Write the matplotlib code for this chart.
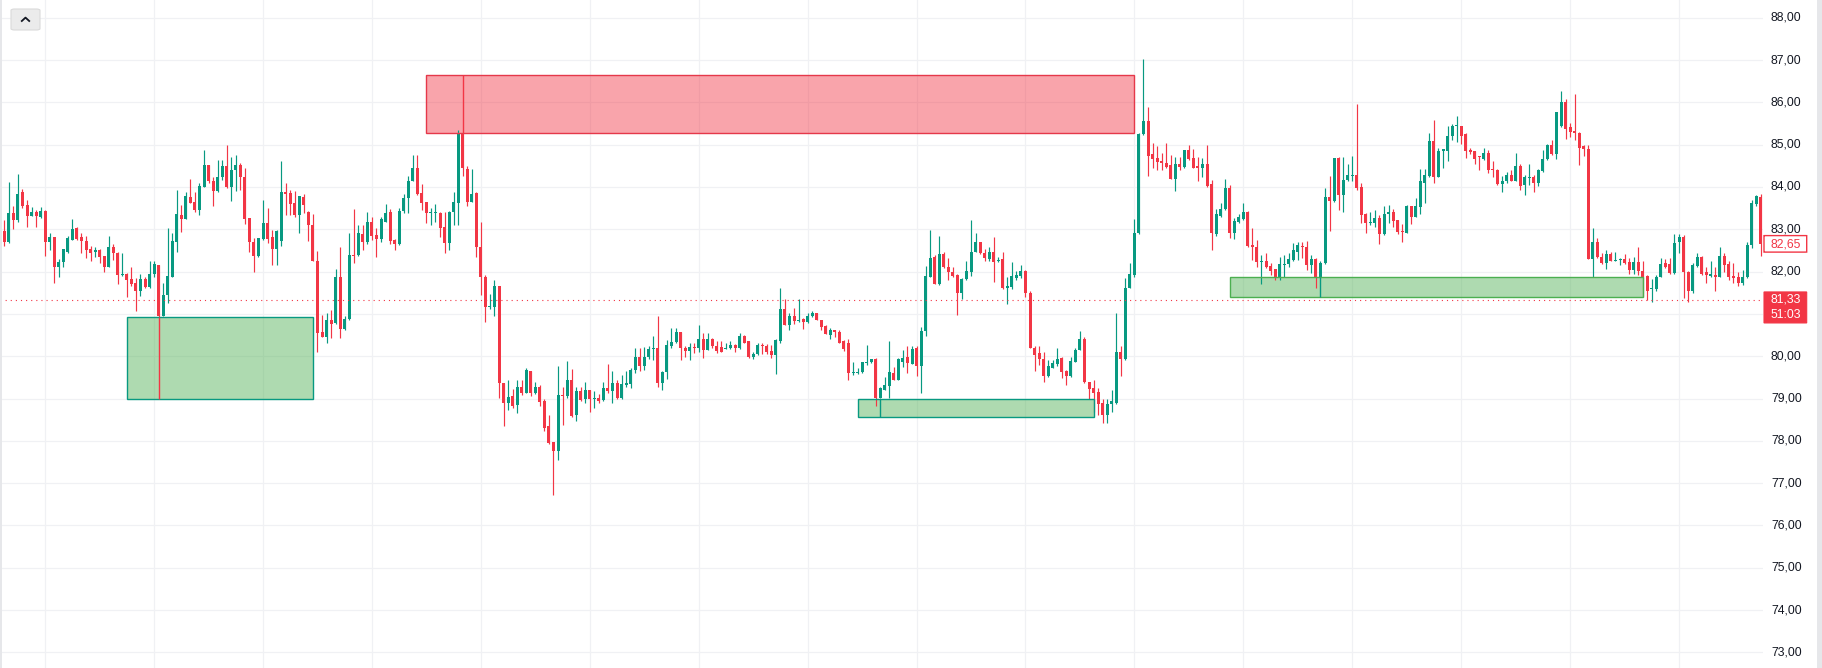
import matplotlib as mpl
mpl.use("Agg")
import matplotlib.pyplot as plt
from matplotlib.patches import Rectangle, FancyBboxPatch
from matplotlib.lines import Line2D
import numpy as np

# hourly candles
opens = [
    82.96, 82.69, 83.39, 83.22, 83.87, 83.57, 83.32, 83.41, 83.28, 83.43,
    82.71, 82.81, 82.10, 82.22, 82.47, 82.75, 83.04, 82.81, 82.73, 82.53,
    82.47, 82.50, 82.37, 82.12, 82.59, 82.45, 81.93, 81.94, 81.83, 81.74,
    81.55, 81.83, 81.63, 81.94, 82.15, 80.94, 81.45, 81.88, 82.71, 83.34,
    83.24, 83.76, 83.64, 83.46, 84.01, 84.52, 84.14, 83.91, 84.24, 84.50,
    84.01, 84.39, 84.52, 84.24, 83.26, 82.69, 82.37, 82.76, 83.16, 82.81,
    82.54, 82.73, 83.87, 83.85, 83.61, 83.34, 83.77, 83.42, 83.10, 82.25,
    80.58, 80.46, 80.86, 80.78, 81.87, 80.64, 80.87, 82.39, 82.39, 82.89,
    82.69, 83.17, 82.87, 82.76, 83.18, 83.40, 82.75, 82.65, 83.44, 83.73,
    84.14, 84.46, 83.85, 83.64, 83.38, 83.38, 83.39, 83.05, 82.67, 83.40,
    83.61, 85.25, 84.42, 83.65, 83.85, 82.59, 81.88, 81.17, 81.17, 81.65,
    79.36, 78.89, 79.05, 78.85, 79.28, 79.14, 79.66, 79.13, 79.28, 78.93,
    78.34, 77.98, 77.75, 79.09, 79.06, 79.44, 78.61, 79.17, 78.99, 79.19,
    78.99, 79.02, 78.97, 79.24, 79.17, 79.36, 79.01, 79.33, 79.35, 79.68,
    79.98, 79.77, 79.98, 80.17, 80.19, 79.36, 79.62, 80.25, 80.33, 80.58,
    80.20, 80.13, 80.21, 80.19, 80.41, 80.15, 80.41, 80.24, 80.21, 80.18,
    80.19, 80.27, 80.19, 80.48, 80.35, 79.98, 80.05, 80.24, 80.23, 80.13,
    80.03, 80.35, 81.11, 80.74, 80.95, 80.83, 80.87, 80.80, 80.94, 81.02,
    80.86, 80.72, 80.50, 80.61, 80.58, 80.35, 80.32, 79.60, 79.60, 79.62,
    79.83, 79.86, 79.94, 79.01, 79.20, 79.30, 79.60, 79.44, 79.87, 79.99,
    79.82, 80.19, 79.76, 80.59, 81.88, 82.34, 81.70, 82.42, 82.12, 82.00,
    81.92, 81.50, 81.82, 81.98, 82.47, 82.69, 82.45, 82.30, 82.46, 82.24,
    82.29, 81.61, 81.63, 81.86, 81.90, 82.02, 81.49, 80.19, 80.07, 79.94,
    79.54, 79.73, 79.81, 79.95, 79.65, 79.54, 79.87, 80.15, 80.40, 79.38,
    79.24, 79.16, 78.89, 78.60, 78.87, 78.89, 80.09, 79.93, 81.62, 81.92,
    82.92, 85.25, 85.57, 84.78, 84.69, 84.62, 84.57, 84.52, 84.20, 84.54,
    84.48, 84.87, 84.68, 84.50, 84.46, 84.54, 84.06, 82.89, 83.31, 83.47,
    83.98, 82.92, 83.18, 83.24, 83.42, 82.63, 82.57, 82.22, 82.25, 82.14,
    82.06, 81.84, 82.16, 82.18, 82.28, 82.47, 82.61, 82.59, 82.16, 82.30,
    81.88, 82.20, 83.77, 83.67, 84.68, 83.81, 84.17, 84.26, 84.28, 84.01,
    83.36, 83.14, 83.14, 83.26, 82.89, 83.36, 83.42, 83.22, 82.96, 82.92,
    83.54, 83.30, 83.52, 84.10, 84.26, 85.09, 84.24, 84.85, 84.86, 85.21,
    85.43, 85.44, 85.25, 84.87, 84.85, 84.72, 84.65, 84.80, 84.40, 84.40,
    84.07, 84.14, 84.28, 84.15, 84.50, 84.05, 84.22, 84.24, 84.10, 84.38,
    84.65, 84.99, 84.78, 85.45, 86.02, 85.41, 85.32, 85.27, 84.97, 84.90,
    82.29, 82.69, 82.34, 82.20, 82.42, 82.26, 82.28, 82.30, 82.22, 82.04,
    82.22, 82.02, 81.90, 81.59, 81.59, 81.88, 82.20, 82.18, 81.96, 82.69,
    82.81, 82.00, 81.53, 82.13, 82.35, 81.98, 81.90, 81.92, 81.88, 82.38,
    82.18, 81.90, 81.88, 81.72, 81.87, 82.62, 83.60, 83.76,
]
highs = [
    83.22, 84.12, 83.55, 84.31, 83.95, 83.69, 83.52, 83.46, 83.52, 83.46,
    82.91, 82.81, 82.30, 82.54, 82.83, 83.24, 83.06, 82.91, 82.84, 82.61,
    82.59, 82.54, 82.37, 82.84, 82.65, 82.47, 82.43, 81.96, 82.12, 81.86,
    81.94, 81.88, 82.24, 82.24, 82.16, 81.72, 83.04, 82.91, 83.94, 83.57,
    83.87, 84.19, 83.87, 84.09, 84.87, 84.52, 84.23, 84.64, 84.64, 84.99,
    84.72, 84.76, 84.56, 84.44, 83.27, 82.80, 82.80, 83.69, 83.50, 82.98,
    82.98, 84.61, 84.09, 83.93, 83.91, 83.79, 83.83, 83.43, 83.36, 82.49,
    80.98, 81.02, 81.09, 82.06, 82.59, 80.94, 82.92, 83.47, 83.10, 83.10,
    83.40, 83.30, 83.02, 83.28, 83.60, 83.47, 82.76, 83.50, 83.83, 84.26,
    84.76, 84.76, 84.07, 83.65, 83.50, 83.60, 83.42, 83.42, 83.44, 83.89,
    85.35, 85.27, 84.50, 84.43, 83.89, 83.18, 81.92, 81.47, 81.79, 81.65,
    79.36, 79.44, 79.22, 79.44, 79.44, 79.72, 79.66, 79.40, 79.32, 78.98,
    78.61, 77.98, 79.76, 79.28, 79.89, 79.69, 79.28, 79.28, 79.40, 79.19,
    79.17, 79.10, 79.40, 79.82, 79.64, 79.44, 79.56, 79.66, 79.72, 80.19,
    80.19, 80.21, 80.23, 80.48, 80.94, 79.64, 80.39, 80.66, 80.66, 80.58,
    80.23, 80.31, 80.32, 80.74, 80.56, 80.54, 80.44, 80.35, 80.35, 80.31,
    80.35, 80.29, 80.56, 80.50, 80.35, 80.09, 80.31, 80.31, 80.29, 80.27,
    80.41, 81.61, 81.35, 81.02, 81.13, 81.35, 80.90, 81.02, 81.08, 81.03,
    80.86, 80.74, 80.66, 80.62, 80.61, 80.39, 80.40, 79.87, 79.72, 79.87,
    80.27, 79.94, 79.95, 79.28, 79.52, 80.35, 79.74, 79.95, 80.15, 80.24,
    80.23, 80.24, 80.70, 82.13, 82.98, 82.39, 82.83, 82.47, 82.31, 82.12,
    81.94, 81.84, 82.25, 83.22, 82.91, 82.71, 82.53, 82.59, 82.81, 82.34,
    82.47, 81.88, 82.22, 82.02, 82.16, 82.04, 81.53, 80.23, 80.23, 80.11,
    79.91, 79.90, 80.19, 79.99, 79.68, 79.99, 80.19, 80.60, 80.46, 79.40,
    79.43, 79.24, 79.00, 78.98, 79.19, 81.02, 80.24, 81.84, 82.21, 83.24,
    85.28, 87.02, 85.90, 85.03, 84.97, 84.80, 85.05, 84.76, 84.72, 84.72,
    84.87, 84.99, 84.89, 84.70, 84.68, 84.99, 84.17, 83.47, 83.61, 84.20,
    84.05, 83.26, 83.36, 83.61, 83.43, 83.02, 82.75, 82.39, 82.43, 82.20,
    82.06, 82.35, 82.39, 82.43, 82.67, 82.71, 82.71, 82.72, 82.39, 82.31,
    82.24, 83.97, 84.26, 84.68, 84.70, 84.72, 84.54, 84.73, 85.96, 84.09,
    83.39, 83.42, 83.46, 83.34, 83.54, 83.57, 83.47, 83.22, 83.13, 83.57,
    83.55, 83.73, 84.42, 84.42, 85.27, 85.58, 84.91, 84.90, 85.44, 85.48,
    85.68, 85.44, 85.27, 84.91, 84.85, 84.73, 84.93, 84.87, 84.62, 84.42,
    84.26, 84.36, 84.40, 84.81, 84.54, 84.28, 84.54, 84.28, 84.42, 84.87,
    85.02, 85.11, 85.78, 86.27, 86.08, 85.52, 86.20, 85.31, 84.99, 84.99,
    83.02, 82.79, 82.43, 82.51, 82.47, 82.47, 82.31, 82.41, 82.31, 82.34,
    82.57, 82.24, 81.92, 81.83, 81.92, 82.33, 82.29, 82.31, 82.89, 82.89,
    82.87, 82.02, 82.21, 82.45, 82.37, 82.10, 82.24, 82.12, 82.59, 82.43,
    82.24, 82.21, 82.00, 82.04, 82.70, 83.70, 83.82, 83.83,
]
lows = [
    82.61, 82.67, 83.01, 83.18, 83.51, 83.06, 83.31, 83.06, 83.26, 82.37,
    82.50, 81.72, 81.88, 82.12, 82.43, 82.75, 82.75, 82.43, 82.31, 82.25,
    82.35, 82.20, 82.00, 82.10, 82.28, 81.71, 81.90, 81.39, 81.65, 81.06,
    81.43, 81.61, 81.61, 81.87, 80.92, 80.94, 81.25, 81.88, 82.47, 82.94,
    83.24, 83.61, 83.40, 83.34, 84.01, 84.10, 83.55, 83.87, 84.17, 83.97,
    83.68, 83.91, 83.94, 83.13, 82.47, 81.98, 82.35, 82.75, 82.67, 82.16,
    82.16, 82.61, 83.34, 83.34, 83.30, 82.92, 83.38, 82.73, 82.24, 80.11,
    80.45, 80.31, 80.43, 80.76, 80.43, 80.62, 80.86, 82.20, 82.37, 82.50,
    82.65, 82.75, 82.35, 82.71, 83.17, 82.65, 82.50, 82.63, 83.38, 83.38,
    84.13, 83.81, 83.46, 83.16, 83.10, 83.18, 82.81, 82.43, 82.51, 83.10,
    83.10, 84.26, 83.56, 83.65, 82.34, 81.45, 80.80, 81.11, 80.94, 79.01,
    78.34, 78.73, 78.77, 78.65, 79.09, 79.13, 79.05, 79.11, 78.83, 78.24,
    77.93, 76.72, 77.54, 78.38, 79.01, 78.57, 78.46, 78.93, 78.89, 78.67,
    78.77, 78.89, 78.93, 79.13, 78.89, 78.98, 78.98, 79.28, 79.24, 79.60,
    79.66, 79.68, 79.93, 79.91, 79.27, 79.19, 79.46, 80.19, 80.31, 79.91,
    79.99, 79.90, 80.07, 80.11, 79.95, 80.15, 80.19, 80.07, 80.09, 80.17,
    80.17, 80.11, 80.17, 80.31, 79.95, 79.94, 80.03, 80.05, 80.05, 79.95,
    79.59, 80.31, 80.74, 80.62, 80.76, 80.80, 80.65, 80.78, 80.92, 80.85,
    80.62, 80.52, 80.40, 80.46, 80.31, 80.13, 79.44, 79.56, 79.58, 79.60,
    79.80, 79.83, 78.83, 79.01, 79.19, 79.01, 79.43, 79.43, 79.74, 79.60,
    79.82, 79.54, 79.14, 80.48, 81.87, 81.70, 81.69, 82.08, 81.80, 81.87,
    80.98, 81.35, 81.80, 81.90, 82.47, 82.42, 82.24, 82.24, 81.76, 82.22,
    81.58, 81.24, 81.58, 81.80, 81.86, 81.41, 80.19, 79.64, 79.80, 79.40,
    79.52, 79.72, 79.78, 79.49, 79.32, 79.52, 79.86, 80.15, 79.37, 78.99,
    78.69, 78.61, 78.43, 78.41, 78.69, 78.87, 79.53, 79.91, 81.62, 81.88,
    82.90, 85.23, 84.26, 84.44, 84.40, 84.39, 84.44, 84.18, 83.91, 84.39,
    84.44, 84.64, 84.44, 84.13, 84.24, 84.01, 82.51, 82.83, 83.30, 83.46,
    82.79, 82.76, 83.16, 83.22, 82.59, 82.28, 82.12, 81.71, 82.08, 81.92,
    81.80, 81.80, 81.88, 82.12, 82.26, 82.28, 82.31, 82.04, 81.96, 81.61,
    81.86, 82.18, 82.96, 83.65, 83.46, 83.42, 84.13, 84.13, 83.94, 83.16,
    82.91, 83.10, 83.06, 82.65, 82.87, 83.14, 83.06, 82.89, 82.71, 82.91,
    83.13, 83.28, 83.36, 83.61, 84.23, 84.09, 84.23, 84.46, 84.62, 85.11,
    85.07, 85.02, 84.68, 84.78, 84.54, 84.40, 84.64, 84.32, 84.23, 84.05,
    83.89, 84.10, 84.13, 84.13, 83.94, 83.81, 84.05, 83.87, 84.02, 84.36,
    84.64, 84.76, 84.65, 85.41, 85.13, 85.19, 85.11, 84.52, 84.73, 82.29,
    81.87, 82.31, 82.18, 82.06, 82.24, 82.24, 82.16, 82.18, 81.94, 81.94,
    81.92, 81.41, 81.33, 81.29, 81.53, 81.87, 82.08, 81.94, 81.94, 82.45,
    81.37, 81.29, 81.49, 82.12, 81.91, 81.72, 81.88, 81.55, 81.87, 82.00,
    81.79, 81.72, 81.66, 81.68, 81.84, 82.55, 83.55, 82.38,
]
closes = [
    82.69, 83.39, 83.22, 83.84, 83.55, 83.32, 83.41, 83.32, 83.43, 82.71,
    82.81, 82.10, 82.22, 82.53, 82.80, 83.00, 82.76, 82.73, 82.50, 82.45,
    82.50, 82.35, 82.12, 82.57, 82.43, 81.92, 81.94, 81.80, 81.71, 81.55,
    81.82, 81.63, 81.94, 82.17, 80.94, 81.45, 81.90, 82.73, 83.35, 83.24,
    83.79, 83.61, 83.46, 84.02, 84.52, 84.13, 83.91, 84.24, 84.50, 84.01,
    84.40, 84.52, 84.23, 83.24, 82.69, 82.37, 82.79, 83.16, 82.77, 82.54,
    82.97, 83.87, 83.84, 83.60, 83.34, 83.79, 83.57, 83.10, 82.24, 80.56,
    80.46, 80.86, 80.76, 81.87, 80.64, 80.87, 82.39, 82.37, 82.91, 82.69,
    83.17, 82.85, 82.76, 83.24, 83.39, 82.73, 82.65, 83.44, 83.73, 84.14,
    84.46, 83.83, 83.61, 83.38, 83.39, 83.39, 83.02, 82.67, 83.42, 83.64,
    85.27, 84.44, 83.65, 83.83, 82.57, 81.87, 81.17, 81.19, 81.65, 79.36,
    78.89, 79.03, 78.83, 79.28, 79.13, 79.68, 79.13, 79.28, 78.91, 78.30,
    77.96, 77.75, 79.09, 79.06, 79.44, 78.59, 79.17, 78.97, 79.19, 78.98,
    79.01, 78.94, 79.24, 79.17, 79.36, 79.01, 79.35, 79.35, 79.68, 79.98,
    79.77, 79.98, 80.17, 80.19, 79.36, 79.62, 80.27, 80.33, 80.58, 80.20,
    80.13, 80.21, 80.19, 80.41, 80.15, 80.40, 80.25, 80.13, 80.11, 80.20,
    80.27, 80.20, 80.48, 80.32, 79.98, 80.06, 80.27, 80.23, 80.11, 80.03,
    80.39, 81.11, 80.74, 80.95, 80.83, 80.86, 80.82, 80.94, 81.02, 80.86,
    80.70, 80.52, 80.61, 80.58, 80.32, 80.17, 79.60, 79.62, 79.62, 79.87,
    79.86, 79.93, 79.01, 79.24, 79.33, 79.62, 79.44, 79.93, 79.95, 79.85,
    80.17, 79.76, 80.60, 81.90, 82.31, 81.70, 82.41, 82.12, 81.98, 81.90,
    81.50, 81.83, 82.02, 82.47, 82.69, 82.45, 82.31, 82.46, 82.22, 82.28,
    81.61, 81.66, 81.90, 81.92, 82.02, 81.49, 80.19, 80.03, 79.93, 79.54,
    79.76, 79.83, 79.93, 79.62, 79.54, 79.89, 80.15, 80.40, 79.38, 79.22,
    79.14, 78.87, 78.60, 78.87, 78.93, 80.09, 79.94, 81.62, 81.94, 82.92,
    85.25, 85.57, 84.74, 84.66, 84.60, 84.56, 84.48, 84.20, 84.54, 84.48,
    84.87, 84.65, 84.46, 84.44, 84.54, 84.02, 82.91, 83.36, 83.47, 83.98,
    82.92, 83.20, 83.30, 83.42, 82.61, 82.57, 82.22, 82.24, 82.12, 82.02,
    81.84, 82.18, 82.18, 82.30, 82.50, 82.63, 82.59, 82.16, 82.30, 81.88,
    82.21, 83.77, 83.67, 84.68, 83.81, 84.17, 84.28, 84.28, 83.97, 83.34,
    83.14, 83.18, 83.26, 82.89, 83.36, 83.42, 83.20, 82.94, 82.94, 83.54,
    83.30, 83.54, 84.13, 84.28, 85.09, 84.24, 84.85, 84.89, 85.21, 85.44,
    85.44, 85.21, 84.86, 84.82, 84.66, 84.70, 84.81, 84.39, 84.39, 84.07,
    84.15, 84.28, 84.15, 84.50, 84.03, 84.24, 84.24, 84.10, 84.40, 84.65,
    84.99, 84.77, 85.78, 86.02, 85.37, 85.31, 85.27, 84.93, 84.89, 82.29,
    82.69, 82.34, 82.20, 82.42, 82.26, 82.28, 82.30, 82.20, 82.04, 82.22,
    82.02, 81.87, 81.55, 81.61, 81.88, 82.18, 82.12, 81.96, 82.67, 82.81,
    81.98, 81.53, 82.16, 82.35, 81.94, 81.92, 81.94, 81.87, 82.38, 82.16,
    81.87, 81.84, 81.74, 81.88, 82.62, 83.63, 83.79, 82.65,
]

# drawn zones (bar index range, price range), marker bar inside each
zone_start = [27, 93, 188, 270]
zone_end = [68, 249, 240, 361]
zone_low = [79.00, 85.27, 78.56, 81.41]
zone_high = [80.92, 86.64, 79.00, 81.87]
zone_fill = ["#4caf50", "#f23645", "#4caf50", "#4caf50"]
zone_edge = ["#089981", "#e5384a", "#089981", "#4caf50"]
zone_mark = [34, 101, 193, 290]

price_ticks = list(range(73, 89))
last_close = 82.65
line_price = 81.33
countdown = "51:03"

UP = "#089981"
DOWN = "#f23645"
GRID = "#f0f1f4"

W, H = 1822, 668
PLOT_W = 1763
fig = plt.figure(figsize=(W / 100, H / 100), dpi=100)
fig.patch.set_facecolor("white")
ax = fig.add_axes([0, 0, PLOT_W / W, 1])
ax.set_xlim(-0.95, 387.5)
ax.set_ylim(72.63, 88.42)
ax.axis("off")

# grid
for p in price_ticks:
    ax.axhline(p, color=GRID, lw=0.9, zorder=0)
for b in range(9, len(opens), 24):
    ax.axvline(b, color=GRID, lw=0.9, zorder=0)

o = np.array(opens)
h = np.array(highs)
l = np.array(lows)
c = np.array(closes)
idx = np.arange(len(o))
up = c >= o
cols = np.where(up, UP, DOWN)

# zones
for s, e, lo, hi, fc, ec, m in zip(zone_start, zone_end, zone_low, zone_high,
                                   zone_fill, zone_edge, zone_mark):
    ax.add_patch(Rectangle((s, lo), e - s, hi - lo, facecolor=fc, alpha=0.45,
                           edgecolor="none", zorder=1))
    ax.add_patch(Rectangle((s, lo), e - s, hi - lo, facecolor="none",
                           edgecolor=ec, lw=1.0, zorder=4))
    ax.vlines(m, lo, hi, color=cols[m], lw=1.0, zorder=4)

# candles
ax.vlines(idx, l, h, colors=cols, lw=0.85, zorder=2)
body_lo = np.minimum(o, c)
body_h = np.maximum(np.abs(c - o), 0.025)
ax.bar(idx, body_h, bottom=body_lo, width=0.66, color=cols, lw=0, zorder=3)

# price line
ax.axhline(line_price, color=DOWN, lw=0.8, linestyle=(0, (1, 3.6)), zorder=5)

# right scale labels
yt = ax.get_yaxis_transform()
x_lab = 1771 / PLOT_W
for p in price_ticks:
    ax.text(x_lab, p, f"{p},00", transform=yt, ha="left", va="center",
            fontsize=8.8, color="#131722", family="Liberation Sans", clip_on=False)

px = 1 / 42.3  # price units per pixel
bx0 = 1764 / PLOT_W
bw = 42.7 / PLOT_W
ax.add_patch(FancyBboxPatch((bx0, last_close - 8 * px), bw, 16.5 * px, transform=yt,
                            boxstyle="round,pad=0,rounding_size=0.001",
                            facecolor="white", edgecolor=DOWN, lw=1.0,
                            clip_on=False, zorder=6))
ax.text(bx0 + bw / 2, last_close, f"{last_close:.2f}".replace(".", ","), transform=yt,
        ha="center", va="center", fontsize=8.8, color=DOWN,
        family="Liberation Sans", clip_on=False, zorder=7)

ax.add_patch(FancyBboxPatch((bx0, line_price - 23 * px), bw, 31 * px, transform=yt,
                            boxstyle="round,pad=0,rounding_size=0.001",
                            facecolor=DOWN, edgecolor=DOWN, lw=0.8,
                            clip_on=False, zorder=6))
ax.text(bx0 + bw / 2, line_price, f"{line_price:.2f}".replace(".", ","), transform=yt,
        ha="center", va="center", fontsize=8.8, color="white",
        family="Liberation Sans", clip_on=False, zorder=7)
ax.text(bx0 + bw / 2, line_price - 15 * px, countdown, transform=yt,
        ha="center", va="center", fontsize=8.8, color="white",
        family="Liberation Sans", clip_on=False, zorder=7)

# borders
fig.add_artist(Rectangle((1817 / W, 0), 5 / W, 1, transform=fig.transFigure,
                         facecolor="#e6e7ea", edgecolor="none"))
fig.add_artist(Rectangle((0, 0), 2 / W, 1, transform=fig.transFigure,
                         facecolor="#e6e7ea", edgecolor="none"))

# collapse button top-left
fig.add_artist(FancyBboxPatch((11 / W, 1 - 30 / H), 29 / W, 21 / H, transform=fig.transFigure,
                              boxstyle="round,pad=0,rounding_size=0.002",
                              facecolor="#ebebeb", edgecolor="#dadada", lw=0.8))
fig.add_artist(Line2D([21.8 / W, 25.5 / W, 29.2 / W], [1 - 21 / H, 1 - 17.6 / H, 1 - 21 / H],
                      transform=fig.transFigure, color="#131722", lw=1.3))

fig.savefig("out.png", dpi=100)
